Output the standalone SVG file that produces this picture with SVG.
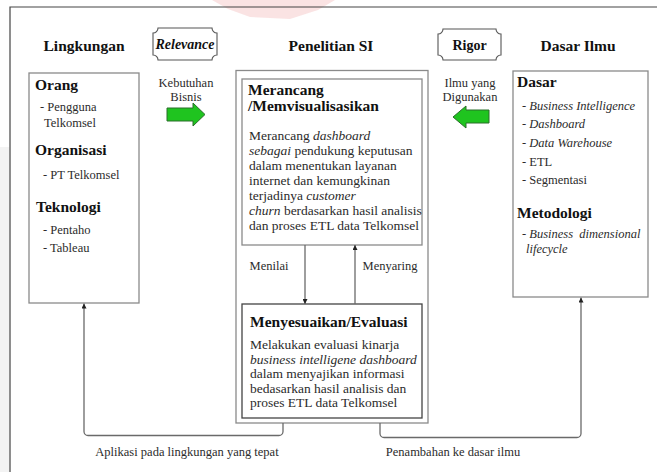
<svg xmlns="http://www.w3.org/2000/svg" width="657" height="472" viewBox="0 0 657 472">
<defs>
<style>
text{font-family:"Liberation Serif","Times New Roman",serif;fill:#2b2b2b}
.h{font-weight:bold;font-size:15.5px;fill:#111}
.b{font-size:13.5px}
.s{font-size:12.5px}
.i{font-style:italic}
.box{fill:#fff;stroke:#8a8a8a;stroke-width:1.3}
.dk{stroke:#444}
.con{fill:none;stroke:#6a6a6a;stroke-width:1.3}
.plq{fill:#fff;stroke:#555;stroke-width:1.1}
.grn{fill:#1fc41f;stroke:#2b6e2b;stroke-width:1}
</style>
<marker id="ah" viewBox="0 0 10 10" refX="10" refY="5" markerWidth="5" markerHeight="5" orient="auto" markerUnits="userSpaceOnUse">
<path d="M0,0 L10,5 L0,10 Z" fill="#222"/>
</marker>
</defs>
<rect x="0" y="0" width="657" height="472" fill="#fff"/>
<rect x="0" y="147" width="9.5" height="325" fill="#f3f3f3"/>
<polygon points="212,0 335,0 318,10 290,19 250,17 228,9" fill="#f5cccc" opacity="0.55"/>
<path d="M10,472 V7 H657" fill="none" stroke="#444" stroke-width="1.2"/>

<text class="h" x="84" y="51" text-anchor="middle">Lingkungan</text>
<text class="h" x="331" y="51" text-anchor="middle">Penelitian SI</text>
<text class="h" x="578" y="51" text-anchor="middle">Dasar Ilmu</text>

<g id="relevance">
<path class="plq" d="M158,28 H212 A5,5 0 0 0 217,33 V55 A5,5 0 0 0 212,60 H158 A5,5 0 0 0 153,55 V33 A5,5 0 0 0 158,28 Z"/>
<text x="185" y="49" text-anchor="middle" style="font-weight:bold;font-style:italic;font-size:14px;fill:#111">Relevance</text>
</g>
<g id="rigor">
<path class="plq" d="M443,29 H496 A5,5 0 0 0 501,34 V55 A5,5 0 0 0 496,60 H443 A5,5 0 0 0 438,55 V34 A5,5 0 0 0 443,29 Z"/>
<text x="469.5" y="50" text-anchor="middle" style="font-weight:bold;font-size:14px;fill:#111">Rigor</text>
</g>

<g id="kebutuhan">
<text class="s" x="186" y="87" text-anchor="middle">Kebutuhan</text>
<text class="s" x="186" y="101" text-anchor="middle">Bisnis</text>
<path class="grn" d="M167,108 H193 V103 L205,114.5 L193,126 V121 H167 Z"/>
</g>
<g id="ilmu">
<text class="s" x="470" y="87" text-anchor="middle">Ilmu yang</text>
<text class="s" x="470" y="101" text-anchor="middle">Digunakan</text>
<path class="grn" d="M489,110 H466 V106 L453,117 L466,128 V123 H489 Z"/>
</g>

<g id="lingkungan">
<rect class="box" x="29" y="73" width="110" height="230"/>
<text class="h" x="35" y="90">Orang</text>
<text class="s" x="40" y="111">- Pengguna</text>
<text class="s" x="44" y="127">Telkomsel</text>
<text class="h" x="35" y="155">Organisasi</text>
<text class="s" x="43" y="179">- PT Telkomsel</text>
<text class="h" x="36" y="212">Teknologi</text>
<text class="s" x="43" y="234">- Pentaho</text>
<text class="s" x="43" y="252">- Tableau</text>
</g>

<g id="penelitian">
<rect class="box" x="236" y="70.5" width="192" height="352.5"/>
</g>
<g id="merancang">
<rect class="box" x="242" y="79" width="180" height="166"/>
<text class="h" x="248" y="95">Merancang</text>
<text class="h" x="248" y="111">/Memvisualisasikan</text>
<text class="b" x="249" y="140">Merancang <tspan class="i">dashboard</tspan></text>
<text class="b" x="249" y="155"><tspan class="i">sebagai</tspan> pendukung keputusan</text>
<text class="b" x="249" y="170">dalam menentukan layanan</text>
<text class="b" x="249" y="185">internet dan kemungkinan</text>
<text class="b" x="249" y="200">terjadinya <tspan class="i">customer</tspan></text>
<text class="b" x="249" y="215"><tspan class="i">churn</tspan> berdasarkan hasil analisis</text>
<text class="b" x="249" y="230">dan proses ETL data Telkomsel</text>
</g>
<g id="menyesuaikan">
<rect class="box dk" x="242" y="304" width="180" height="114"/>
<text class="h" x="250" y="327">Menyesuaikan/Evaluasi</text>
<text class="b" x="250" y="349">Melakukan evaluasi kinarja</text>
<text class="b i" x="250" y="363.5">business intelligene dashboard</text>
<text class="b" x="250" y="378">dalam menyajikan informasi</text>
<text class="b" x="250" y="392.5">bedasarkan hasil analisis dan</text>
<text class="b" x="250" y="407">proses ETL data Telkomsel</text>
</g>

<g id="dasar">
<rect class="box" x="513" y="71" width="135" height="226"/>
<text class="h" x="517" y="87">Dasar</text>
<text class="s" x="522" y="110">- <tspan class="i">Business Intelligence</tspan></text>
<text class="s" x="522" y="128">- <tspan class="i">Dashboard</tspan></text>
<text class="s" x="522" y="147">- <tspan class="i">Data Warehouse</tspan></text>
<text class="s" x="522" y="166">- ETL</text>
<text class="s" x="522" y="184">- Segmentasi</text>
<text class="h" x="517" y="218">Metodologi</text>
<text class="s i" x="522" y="238" style="white-space:pre">- Business  dimensional</text>
<text class="s i" x="526" y="253">lifecycle</text>
</g>

<g id="connectors">
<line class="con" x1="305" y1="245" x2="305" y2="304" marker-end="url(#ah)"/>
<line class="con" x1="355" y1="304" x2="355" y2="245" marker-end="url(#ah)"/>
<path class="con" d="M283,423 V431.5 A4,4 0 0 1 279,435.5 H88 A4,4 0 0 1 84,431.5 V303.5" marker-end="url(#ah)"/>
<path class="con" d="M380,423 V433.5 A4,4 0 0 0 384,437.5 H577 A4,4 0 0 0 581,433.5 V297.5" marker-end="url(#ah)"/>
<text class="s" x="269" y="270" text-anchor="middle">Menilai</text>
<text class="s" x="390" y="270" text-anchor="middle">Menyaring</text>
<text class="s" x="187" y="456" text-anchor="middle">Aplikasi pada lingkungan yang tepat</text>
<text class="s" x="453" y="456" text-anchor="middle">Penambahan ke dasar ilmu</text>
</g>
</svg>
